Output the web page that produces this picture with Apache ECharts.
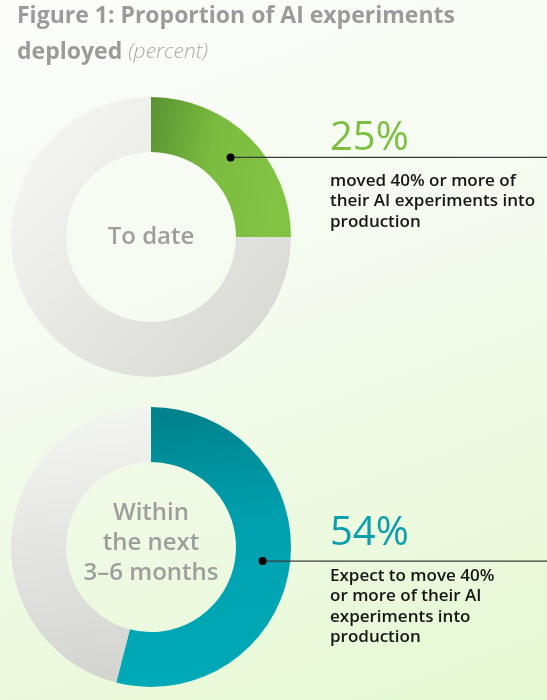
<!DOCTYPE html>
<html>
<head>
<meta charset="utf-8">
<script src="https://cdn.jsdelivr.net/npm/echarts@6/dist/echarts.min.js"></script>
<style>
  html, body { margin: 0; padding: 0; }
  body { background: linear-gradient(160deg, #fcfdfb 0%, #f4fbee 45%, #e4f8d1 100%); }
  #main { width: 547px; height: 700px; }
</style>
</head>
<body>
<div id="main"></div>
<script>
// data
var periods = ['To date', 'Within\nthe next\n3–6 months'];
var deployedShare = [25, 54];
var shareLabels = ['25%', '54%'];
var captions = [
  'moved 40% or more of\ntheir AI experiments into\nproduction',
  'Expect to move 40%\nor more of their AI\nexperiments into\nproduction'
];

var chart = echarts.init(document.getElementById('main'));

var cx = 151;
var centersY = [237, 547];
var rIn = 85, rOut = 140;
var G = echarts.graphic.LinearGradient;

var fills = [
  new G(0, 0, 1, 0.2, [{ offset: 0, color: '#5a9233' }, { offset: 0.5, color: '#7bbc40' }, { offset: 1, color: '#81c343' }]),
  new G(0, 0, 0.2, 1, [{ offset: 0, color: '#007f89' }, { offset: 0.45, color: '#00a0ae' }, { offset: 1, color: '#00a9b7' }])
];
var rests = [
  new G(0, 0, 1, 0.9, [{ offset: 0, color: '#f9faf7' }, { offset: 1, color: '#d6d6d3' }]),
  new G(0, 0, 0.3, 1, [{ offset: 0, color: '#f5f7f3' }, { offset: 1, color: '#d4d4d1' }])
];
var numColors = ['#7cbf41', '#0b9fad'];
var numY = [141, 536];
var capY = [171, 566];
var centerShift = [0, -4];

var series = [];
var graphics = [];
deployedShare.forEach(function (v, i) {
  var cy = centersY[i];
  series.push({
    type: 'pie',
    silent: true,
    center: [cx, cy],
    radius: [rIn, rOut],
    startAngle: 90,
    clockwise: true,
    label: {
      show: true,
      position: 'center',
      formatter: periods[i],
      fontFamily: 'Open Sans',
      fontWeight: 600,
      fontSize: 24,
      lineHeight: 30,
      color: '#a09d9e'
    },
    labelLayout: { dy: centerShift[i] },
    labelLine: { show: false },
    emphasis: { disabled: true },
    data: [
      { value: v, name: periods[i], itemStyle: { color: fills[i] } },
      { value: 100 - v, name: 'other', itemStyle: { color: rests[i] }, label: { show: false } }
    ]
  });

  // marker dot at the middle of the coloured arc
  var a = (v / 100) * Math.PI; // half the sweep
  var rm = (rIn + rOut) / 2;
  var dx = cx + rm * Math.sin(a);
  var dy = cy - rm * Math.cos(a);
  graphics.push({
    type: 'line',
    shape: { x1: dx, y1: dy, x2: 547, y2: dy },
    style: { stroke: '#3a3a3a', lineWidth: 1.3 },
    z: 10
  });
  graphics.push({
    type: 'circle',
    shape: { cx: dx, cy: dy, r: 4 },
    style: { fill: '#000' },
    z: 11
  });
  graphics.push({
    type: 'text',
    left: 330,
    top: numY[i] - 22,
    style: {
      text: shareLabels[i],
      font: '400 40px "Open Sans"',
      fill: numColors[i]
    }
  });
  graphics.push({
    type: 'text',
    left: 330,
    top: capY[i],
    style: {
      text: captions[i],
      font: '600 17px "Open Sans"',
      lineHeight: 20.3,
      fill: '#161616'
    }
  });
});

var option = {
  backgroundColor: 'transparent',
  animation: false,
  title: {
    left: 12,
    top: -7,
    text: 'Figure 1: Proportion of AI experiments\ndeployed {i|(percent)}',
    textStyle: {
      fontFamily: 'Open Sans',
      fontWeight: 700,
      fontSize: 23,
      lineHeight: 36,
      color: '#9b9b9b',
      rich: {
        i: {
          fontFamily: 'Open Sans',
          fontStyle: 'italic',
          fontWeight: 300,
          fontSize: 21,
          color: '#a8a8a8'
        }
      }
    }
  },
  series: series,
  graphic: graphics
};

chart.setOption(option);
</script>
</body>
</html>
